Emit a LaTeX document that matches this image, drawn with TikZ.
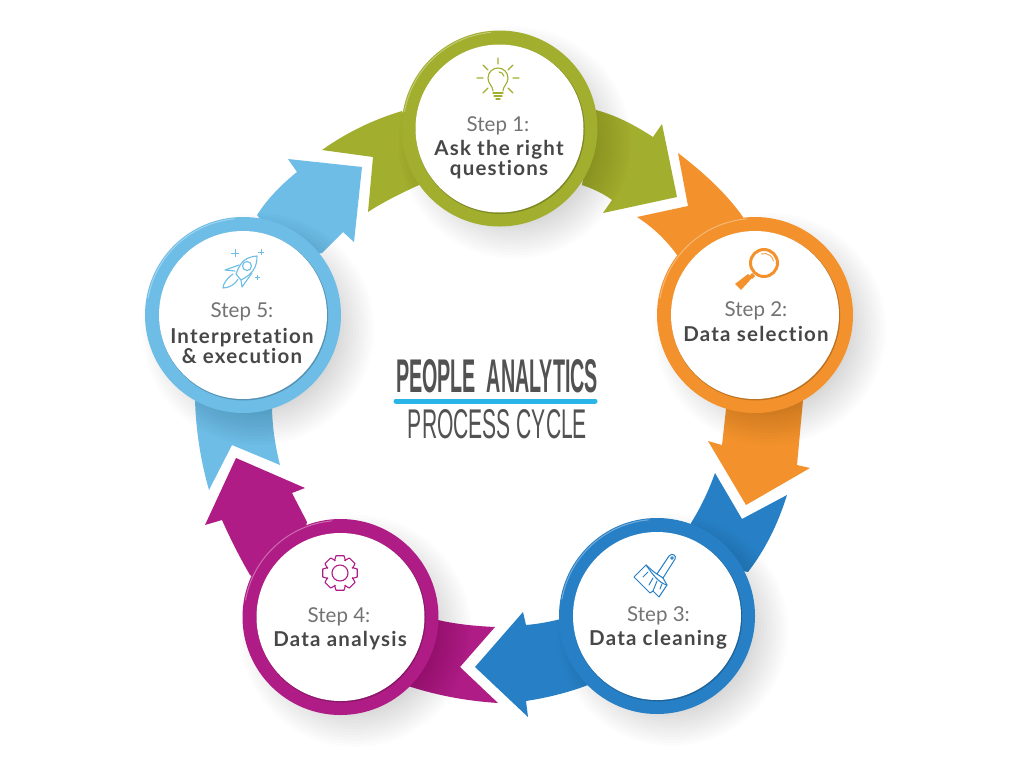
\documentclass[tikz,border=0pt]{standalone}
\usepackage{fontspec}
\setmainfont{Lato}
\newfontfamily\titlefont{Liberation Sans}
\newfontfamily\labelfont[LetterSpace=6,Ligatures=NoCommon]{Lato Bold}
\definecolor{stepgreen}{HTML}{A2AE2D}
\definecolor{steporange}{HTML}{F3922C}
\definecolor{stepblue}{HTML}{2780C6}
\definecolor{steppurple}{HTML}{B01C86}
\definecolor{stepsky}{HTML}{6DBDE6}
\definecolor{titlerule}{HTML}{2AB5E8}
\tikzset{
    ringnode/.style={circle, fill=#1, minimum size=196pt, inner sep=0pt},
    discnode/.style={circle, fill=white, minimum size=168pt, inner sep=0pt},
    stepname/.style={font=\fontsize{20.5}{22}\selectfont, text=black!55, inner sep=0pt},
    steptext/.style={font=\fontsize{20.5}{20}\labelfont, text=black!72, align=center, inner sep=0pt},
    titlenode/.style={font=\titlefont, text=black!68, inner sep=0pt},
    iconline/.style={draw=#1, line width=1.1pt, line cap=round, line join=round},
}
\newcommand{\stepring}[3]{
\begin{scope}[shift={(#2)}]
\foreach \r in {80,83,...,116} \fill[black, opacity=.013] (15,14) circle (\r);
\node[ringnode=#3] (#1) at (0,0) {};
\draw[white, opacity=.35, line width=1pt] (190:96.5) arc (190:265:96.5);
\fill[#3!78!black] (.7,.9) circle (84.5);
\node[discnode] (#1disc) at (0,0) {};
\end{scope}
}
\begin{document}
\begin{tikzpicture}[x=1pt, y=-1pt]
\fill[white] (0,0) rectangle (1015,756);
\useasboundingbox (0,0) rectangle (1015,756);
\fill[stepgreen] (596,110) .. controls (618,116) and (636,126) .. (653,137) -- (662,124) -- (677,197) -- (603,213) -- (612,200) .. controls (604,194) and (594,189) .. (582,185) -- cycle;
\fill[steporange] (678,153) .. controls (703,172) and (726,193) .. (743,217) -- (700,300) -- (677,255) .. controls (667,241) and (654,228) .. (637,217) -- (688,206) -- cycle;
\fill[steporange] (727,400) -- (722,445) -- (708,441) -- (746,505) -- (810,468) -- (797,465) -- (803,400) -- cycle;
\fill[stepblue] (715,473) -- (742,519) -- (787,495) .. controls (778,524) and (765,550) .. (748,572) -- (680,560) -- (691,523) .. controls (701,507) and (709,490) .. (715,473) -- cycle;
\fill[stepblue] (475,667) -- (523,612) -- (526,625) .. controls (538,624) and (549,622) .. (565,618) -- (600,680) .. controls (578,690) and (552,697) .. (526,701) -- (528,717) -- cycle;
\fill[steppurple] (430,618) .. controls (452,624) and (474,626) .. (495,627) -- (460,667) -- (498,703) .. controls (468,701) and (438,696) .. (405,685) -- cycle;
\fill[steppurple] (236,458) -- (305,488) -- (292,493) -- (307,522) -- (290,600) -- (250,575) .. controls (240,558) and (230,538) .. (222,520) -- (205,525) -- cycle;
\fill[stepsky] (195,400) .. controls (196,432) and (201,462) .. (209,490) -- (232,445) -- (280,465) .. controls (275,445) and (272,425) .. (272,405) -- cycle;
\fill[stepsky] (288,159) -- (362,167) -- (354,242) -- (343,232) -- (322,253) -- (290,260) -- (257,215) .. controls (268,198) and (282,184) .. (297,172) -- cycle;
\fill[stepgreen] (322,150) .. controls (346,133) and (372,120) .. (402,111) -- (430,180) .. controls (408,190) and (388,199) .. (368,212) -- (373,157) -- cycle;
\stepring{stepone}{499.5,128.5}{stepgreen}
\stepring{steptwo}{755,315}{steporange}
\stepring{stepthree}{657,616}{stepblue}
\stepring{stepfour}{340.5,617}{steppurple}
\stepring{stepfive}{243,315}{stepsky}
\node[stepname] (nameone) at (498,126) {Step 1:};
\node[steptext] (textone) at (499,159.5) {Ask the right\\questions};
\node[stepname] (nametwo) at (756,311) {Step 2:};
\node[steptext] (texttwo) at (756,334) {Data selection};
\node[stepname] (namethree) at (658.5,616) {Step 3:};
\node[steptext] (textthree) at (658,640) {Data cleaning};
\node[stepname] (namefour) at (339,617) {Step 4:};
\node[steptext] (textfour) at (340,641) {Data analysis};
\node[stepname] (namefive) at (242,312) {Step 5:};
\node[steptext] (textfive) at (242,345.5) {Interpretation\\\&\ execution};
\node[titlenode] (titletop) at (497,376) {\resizebox{202pt}{33pt}{\bfseries PEOPLE\ \ ANALYTICS}};
\node[titlenode] (titlebottom) at (497.5,424) {\resizebox{179pt}{29pt}{PROCESS CYCLE}};
\coordinate (ruleleft) at (396,401);
\coordinate (ruleright) at (595,401);
\draw[titlerule, line width=5pt, line cap=round] (ruleleft) -- (ruleright);
\begin{scope}[shift={(498,78)}]
\draw[iconline=stepgreen] (-5,13) .. controls (-5,8) and (-10,6) .. (-10,0) arc (180:360:10) .. controls (10,6) and (5,8) .. (5,13);
\draw[iconline=stepgreen] (-5,15) -- (5,15) (-4,18) -- (4,18) (-2,21) -- (2,21);
\draw[iconline=stepgreen] (1,-6) arc (270:350:5);
\draw[iconline=stepgreen] (0,-20) -- (0,-14) (-21,0) -- (-15,0) (21,0) -- (15,0) (-15,-13) -- (-10,-8) (15,-13) -- (10,-8) (-15,15) -- (-10,10) (15,15) -- (10,10);
\end{scope}
\begin{scope}[shift={(764,263)}]
\draw[steporange, line width=3pt] (0,0) circle (13.5);
\draw[steporange!80, line width=1pt] (-3,-9) arc (250:350:9.5);
\fill[steporange] (-12,10) -- (-9,13) -- (-12,16) -- (-15,13) -- cycle;
\fill[steporange] (-16,11) -- (-29,21) -- (-23,27) -- (-12,15) -- cycle;
\end{scope}
\begin{scope}[shift={(657,575)}]
\draw[iconline=stepblue, line width=1pt] (0,-1) -- (12,-19) .. controls (15,-23) and (20,-19) .. (18,-16) -- (6,3);
\draw[iconline=stepblue, line width=1pt] (15,-17) circle (1.3);
\draw[iconline=stepblue, line width=1pt] (-11,-10) -- (-3,-3) -- (0,-1) -- (6,3) -- (10,10) -- (2,22) -- (-4,16) -- (-7,18) -- (-23,2) -- cycle;
\draw[iconline=stepblue, line width=1pt] (-11,-10) .. controls (-4,0) and (2,8) .. (10,10);
\draw[iconline=stepblue, line width=1pt] (-14,2) -- (-9,-3) (-8,10) -- (-4,3) (-4,16) -- (0,6) (3,14) -- (5,9);
\end{scope}
\begin{scope}[shift={(340,573)}]
\draw[iconline=steppurple] (0,0) circle (8);
\foreach \a in {0,45,...,315} \draw[iconline=steppurple] (\a-24:13.5) -- (\a-13:17.7) -- (\a+13:17.7) -- (\a+24:13.5) -- (\a+21:13.5);
\end{scope}
\begin{scope}[shift={(247,266)}]
\draw[iconline=stepsky] (10,-10) .. controls (0,-9) and (-6,-6) .. (-11,8) -- (-6,14) .. controls (6,8) and (10,1) .. (10,-10) -- cycle;
\draw[iconline=stepsky] (0,0) circle (4.5);
\draw[iconline=stepsky] (-8,-1) -- (-22,4) -- (-12,5) (5,7) -- (-5,21) -- (-6,14);
\draw[iconline=stepsky] (-14,8) .. controls (-20,12) and (-24,18) .. (-24,22) .. controls (-18,22) and (-11,18) .. (-9,13);
\draw[stepsky, line width=.9pt] (-12,-17) -- (-12,-9) (-16,-13) -- (-8,-13) (14,-17) -- (14,-11) (11,-14) -- (17,-14) (10,9) -- (10,14) (7.5,11.5) -- (12.5,11.5);
\end{scope}
\end{tikzpicture}
\end{document}
